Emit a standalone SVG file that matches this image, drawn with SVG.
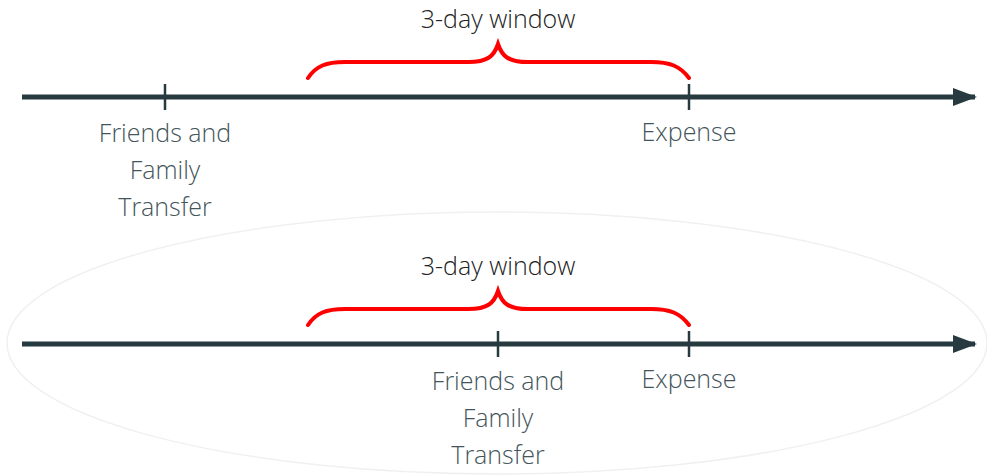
<svg xmlns="http://www.w3.org/2000/svg" width="987" height="476" viewBox="0 0 987 476">
  <style>
    .axis { stroke: #263a3f; stroke-width: 5; fill: none; }
    .tick { stroke: #263a3f; stroke-width: 2.5; }
    .brace { stroke: #ff0000; stroke-width: 4; fill: none; stroke-linecap: round; }
    .lbl { font-family: "Open Sans", "Noto Sans", sans-serif; font-size: 25px; font-weight: 300; fill: #43555a; text-anchor: middle; }
    .title { font-family: "Open Sans", "Noto Sans", sans-serif; font-size: 25px; font-weight: 300; fill: #222222; text-anchor: middle; }
  </style>
  <defs>
    <marker id="arrow" markerUnits="userSpaceOnUse" markerWidth="24" markerHeight="20" refX="22" refY="10" orient="auto">
      <path d="M0,1 L24,10 L0,19 Z" fill="#263a3f"/>
    </marker>
  </defs>
  <rect width="987" height="476" fill="#ffffff"/>

  <!-- faint highlight around the second timeline -->
  <ellipse cx="497" cy="343" rx="490" ry="131" fill="none" stroke="#f0f0f0" stroke-width="1.5"/>

  <g id="connectors">
    <line class="axis" x1="22" y1="97" x2="975" y2="97" marker-end="url(#arrow)"/>
    <line class="axis" x1="22" y1="344" x2="975" y2="344" marker-end="url(#arrow)"/>
  </g>

  <!-- first timeline -->
  <g id="window1">
    <text class="title" x="498" y="28">3-day window</text>
    <path class="brace" d="M308,78 C316,66 326,62 345,62 L468,62 C488,62 494,56 498,44 C502,56 508,62 528,62 L651,62 C670,62 680,66 689,78"/>
  </g>
  <g id="transfer1">
    <line class="tick" x1="165" y1="84" x2="165" y2="110"/>
    <text class="lbl" x="165" y="142">Friends and</text>
    <text class="lbl" x="165" y="179">Family</text>
    <text class="lbl" x="165" y="216">Transfer</text>
  </g>
  <g id="expense1">
    <line class="tick" x1="689" y1="84" x2="689" y2="110"/>
    <text class="lbl" x="689" y="141">Expense</text>
  </g>

  <!-- second timeline -->
  <g id="window2">
    <text class="title" x="498" y="275">3-day window</text>
    <path class="brace" d="M308,325 C316,313 326,309 345,309 L468,309 C488,309 494,303 498,291 C502,303 508,309 528,309 L651,309 C670,309 680,313 689,325"/>
  </g>
  <g id="transfer2">
    <line class="tick" x1="498" y1="331" x2="498" y2="357"/>
    <text class="lbl" x="498" y="390">Friends and</text>
    <text class="lbl" x="498" y="427">Family</text>
    <text class="lbl" x="498" y="464">Transfer</text>
  </g>
  <g id="expense2">
    <line class="tick" x1="689" y1="331" x2="689" y2="357"/>
    <text class="lbl" x="689" y="388">Expense</text>
  </g>
</svg>
